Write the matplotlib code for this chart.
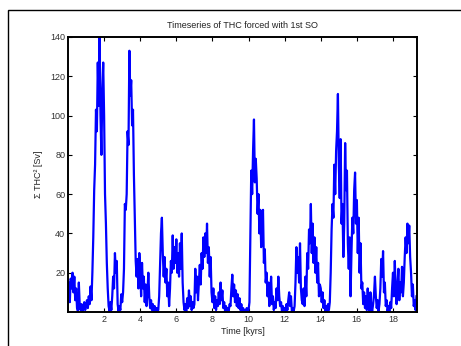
import matplotlib
matplotlib.use('Agg')
import matplotlib.pyplot as plt
import numpy as np
from matplotlib.patches import Rectangle

plt.rcParams['font.family'] = ['Liberation Sans', 'DejaVu Sans']

# sampling step of the series in kyrs
dt = 0.05

# sum of squared THC per 0.05 kyr, one kyr per row
thc = [
    8, 15, 5, 17, 12, 20, 10, 18, 6, 12, 2, 0.5, 15, 3, 1, 4, 0.5, 2, 5, 1,
    3, 6, 2, 8, 4, 13, 6, 20, 38, 62, 75, 103, 92, 127, 105, 140, 100, 80, 112, 127,
    100, 60, 45, 25, 12, 3, 0.5, 5, 1, 8, 18, 12, 30, 20, 26, 4, 0.5, 3, 1, 9,
    5, 10, 22, 55, 52, 60, 92, 85, 133, 110, 118, 95, 103, 70, 48, 26, 18, 27, 12, 30,
    22, 8, 25, 12, 18, 5, 14, 3, 10, 20, 8, 2, 6, 1, 4, 0.5, 3, 0.5, 2, 0.5,
    1, 8, 25, 40, 48, 30, 18, 28, 15, 22, 8, 15, 3, 12, 26, 20, 39, 22, 33, 25,
    37, 20, 30, 18, 35, 22, 40, 15, 5, 1, 4, 0.5, 7, 2, 11, 3, 8, 1, 5, 2,
    4, 22, 10, 18, 6, 15, 24, 14, 30, 22, 38, 28, 40, 30, 45, 25, 33, 18, 28, 10,
    5, 12, 2, 8, 1, 6, 3, 10, 4, 15, 6, 11, 2, 5, 0.5, 3, 0.5, 2, 0.5, 4,
    3, 12, 19, 8, 14, 5, 11, 3, 9, 2, 7, 1, 4, 0.5, 2, 0.5, 1, 0.5, 2, 0.5,
    1, 5, 40, 72, 60, 82, 98, 66, 78, 68, 50, 60, 40, 52, 33, 45, 52, 25, 32, 15,
    20, 8, 15, 3, 10, 18, 4, 8, 1, 5, 2, 12, 6, 18, 8, 3, 5, 0.5, 3, 1,
    2, 0.5, 4, 1, 6, 10, 3, 8, 0.5, 2, 0.5, 3, 15, 33, 20, 28, 15, 35, 12, 6,
    4, 12, 3, 18, 8, 30, 22, 42, 35, 55, 30, 45, 25, 38, 20, 33, 15, 25, 8, 14,
    12, 5, 10, 2, 6, 0.5, 3, 0.5, 4, 1, 5, 20, 42, 55, 48, 75, 60, 82, 92, 111,
    75, 58, 88, 45, 55, 28, 45, 86, 62, 72, 35, 22, 38, 8, 30, 48, 40, 62, 71, 45,
    57, 30, 48, 20, 35, 12, 15, 4, 10, 2, 8, 1, 12, 3, 0.5, 10, 2, 0.5, 4, 9,
    18, 8, 2, 6, 0.5, 4, 12, 27, 18, 31, 10, 15, 3, 6, 0.5, 3, 0.5, 5, 2, 12,
    20, 8, 26, 12, 4, 14, 22, 6, 15, 10, 23, 8, 15, 28, 38, 30, 45, 35, 44, 28,
    20, 8, 14, 3, 6, 1, 8,
]

time_kyrs = np.arange(len(thc)) * dt
x_ticks = [2, 4, 6, 8, 10, 12, 14, 16, 18]
y_ticks = [20, 40, 60, 80, 100, 120, 140]

fig = plt.figure(figsize=(4.61, 3.46), dpi=100)
ax = fig.add_axes([68 / 461, 1 - 312 / 346, 349 / 461, 275 / 346])

ax.plot(time_kyrs, thc, color='#0000ff', linewidth=1.6)

ax.set_xlim(0, 19.33)
ax.set_ylim(0, 140)
ax.set_xticks(x_ticks)
ax.set_yticks(y_ticks)
ax.tick_params(direction='in', length=3, width=0.8, labelsize=6.5,
               top=True, right=True, pad=2, labelcolor='#333333')
for s in ax.spines.values():
    s.set_linewidth(1.4)

ax.set_title('Timeseries of THC forced with 1st SO', fontsize=6.5, pad=6.5,
             color='#222222')
ax.set_xlabel('Time [kyrs]', fontsize=6.5, labelpad=2, color='#222222')
ax.set_ylabel('\u03a3 THC\u00b2 [Sv]', fontsize=6.5, labelpad=5, color='#222222')

# frame around the whole figure, as in the original export
fig.patches.append(Rectangle((8 / 461, -0.1), 1.2, 1.1 - 9.5 / 346,
                             transform=fig.transFigure, fill=False,
                             edgecolor='black', linewidth=1.0))

fig.savefig('out.png', dpi=100)
